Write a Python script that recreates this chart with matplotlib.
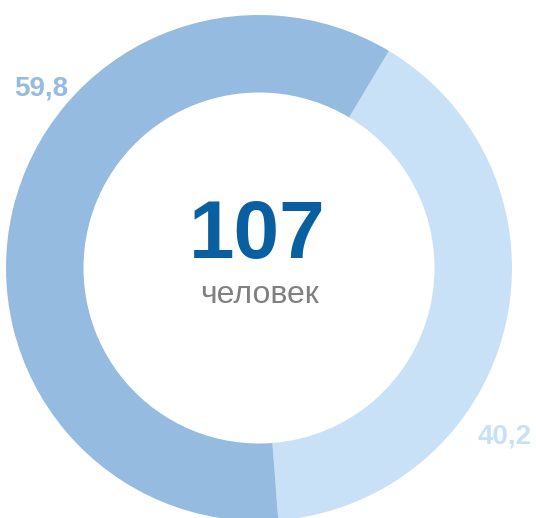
import matplotlib
matplotlib.use("Agg")
import matplotlib.pyplot as plt

plt.rcParams['font.family'] = ['Liberation Sans', 'DejaVu Sans']

# данные
values = [40.2, 59.8]
colors = ["#c8e1f6", "#95bbe0"]
total = 107
unit = "человек"

W, H = 536, 518
fig = plt.figure(figsize=(W / 100, H / 100), dpi=100)
ax = fig.add_axes([0, 0, 1, 1])

# кольцо (координаты в пикселях, y снизу вверх)
cx, cy = 259, H - 268
ax.pie(values, colors=colors, startangle=59.1, counterclock=False,
       radius=253, center=(cx, cy),
       wedgeprops=dict(width=77.5, linewidth=0))

ax.set_xlim(0, W)
ax.set_ylim(0, H)
ax.set_aspect("equal")
ax.axis("off")

# подписи долей
def fmt(v):
    return f"{v:.1f}".replace(".", ",")

ax.text(41, H - 96, fmt(values[1]), color=colors[1], fontsize=20,
        fontweight="bold", ha="center", va="baseline")
ax.text(505, H - 443, fmt(values[0]), color=colors[0], fontsize=20,
        fontweight="bold", ha="center", va="baseline")

# центр
ax.text(257, H - 258, str(total), color="#0a5fa0", fontsize=59,
        fontweight="bold", ha="center", va="baseline")
ax.text(260, H - 303, unit, color="#808080", fontsize=23,
        ha="center", va="baseline")

fig.savefig("out.png", dpi=100)
